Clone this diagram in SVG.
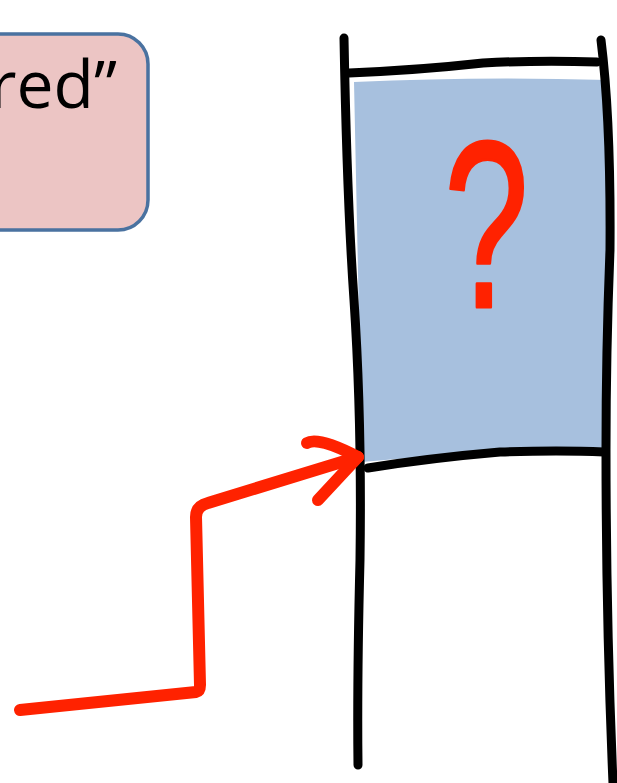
<svg xmlns="http://www.w3.org/2000/svg" width="617" height="783" viewBox="0 0 617 783">
<style>
.ink{fill:none;stroke:#000;stroke-width:9;stroke-linecap:round;stroke-linejoin:round}
.red{fill:none;stroke:#ff2200;stroke-width:12;stroke-linecap:round;stroke-linejoin:round}
</style>
<rect width="617" height="783" fill="#fff"/>
<g id="note">
<rect x="-60" y="34" width="208" height="196" rx="30" fill="#ecc5c4" stroke="#4a72a0" stroke-width="3.5"/>
<text x="117" y="108" text-anchor="end" font-family="'Open Sans','Liberation Sans',sans-serif" font-size="66" fill="#000">red”</text>
</g>
<g id="stack">
<path d="M354,82 Q480,76 608,80 L608,455 Q490,450 362,462 Z" fill="#a7c0de"/>
<path class="ink" d="M344,38 Q347,200 354,300 Q362,420 360,560 Q357,680 358,765"/>
<path class="ink" d="M601,40 Q611,120 610,250 Q606,350 606,450 Q606,620 613,783"/>
<path class="ink" d="M349,73 Q420,70 483,63 Q540,60 597,62"/>
<path class="ink" d="M368,468 Q430,458 500,452 Q560,450 604,452"/>
<text x="0" y="0" transform="translate(444,307) scale(0.64,1)" font-family="'Liberation Sans',sans-serif" font-size="238" fill="#ff2200" stroke="#ff2200" stroke-width="3" stroke-linejoin="round">?</text>
</g>
<g id="connectors">
<path class="red" d="M20,710 L196,692 Q200,691 200,685 L196,517 Q196,506 208,503 L358,457"/>
<path class="red" d="M307,443 Q318,436 358,457 L318,500"/>
</g>
</svg>
